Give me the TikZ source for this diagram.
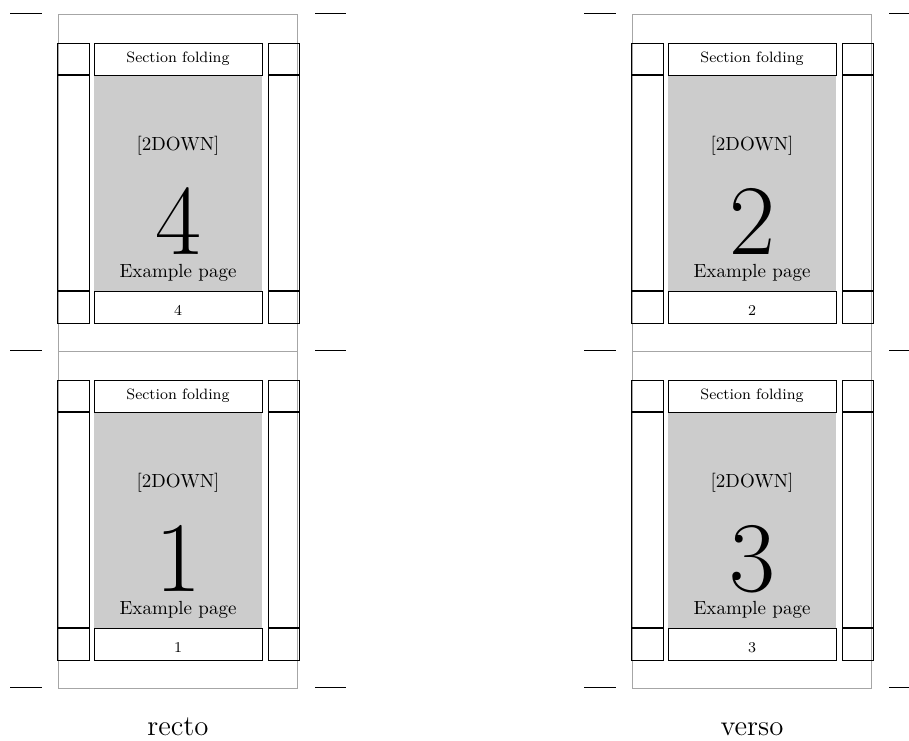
\documentclass[tikz,border=0pt]{standalone}
\usepackage{amsmath,amssymb}
\usepackage{tikz}

\begin{document}
\begin{tikzpicture}[
  x=0.5pt, y=-0.5pt,
  outer/.style={draw=black!35, line width=0.5pt},
  frame/.style={draw=black, line width=0.5pt},
  divider/.style={draw=black, line width=0.8pt},
  body/.style={fill=black!20},
  cutmark/.style={draw=black, line width=0.5pt},
  smalltext/.style={font=\fontsize{7.5}{9}\selectfont, anchor=base, inner sep=0pt},
  pagetext/.style={font=\fontsize{9.5}{11}\selectfont, anchor=base, inner sep=0pt},
  bignum/.style={font=\fontsize{50}{50}\selectfont, anchor=base, inner sep=0pt},
  sidename/.style={font=\Large, anchor=base, inner sep=0pt}
]
\useasboundingbox (0,0) rectangle (909,740);

% four pages of the folded sheet
\foreach \ox/\oy/\n/\id in {58/14/4/a, 58/351/1/b, 632/14/2/c, 632/351/3/d} {
  \begin{scope}[shift={(\ox,\oy)}]
    \fill[body] (36,61) rectangle (204,277);
    \draw[outer] (0,0) rectangle (239,337);
    % margin columns
    \draw[frame] (-1,29) rectangle (31,309);
    \draw[divider] (-1,61) -- (31,61) (-1,277) -- (31,277);
    \draw[frame] (210,29) rectangle (241,309);
    \draw[divider] (210,61) -- (241,61) (210,277) -- (241,277);
    % head and foot
    \draw[frame] (36,29) rectangle (204,61);
    \draw[frame] (36,277) rectangle (204,309);
    \node[smalltext] (head-\id) at (120,48) {Section folding};
    \node[pagetext] (mode-\id) at (120,136) {[2DOWN]};
    \node[bignum] (num-\id) at (120,240) {\n};
    \node[pagetext] (ex-\id) at (120,263) {Example page};
    \node[smalltext] (foot-\id) at (120,301) {\n};
    % cut marks
    \draw[cutmark] (-48,-1) -- (-16,-1) (257,-1) -- (288,-1);
    \draw[cutmark] (-48,336) -- (-16,336) (257,336) -- (288,336);
  \end{scope}
}

\node[sidename] (recto) at (178,735) {recto};
\node[sidename] (verso) at (752,735) {verso};

\end{tikzpicture}
\end{document}
